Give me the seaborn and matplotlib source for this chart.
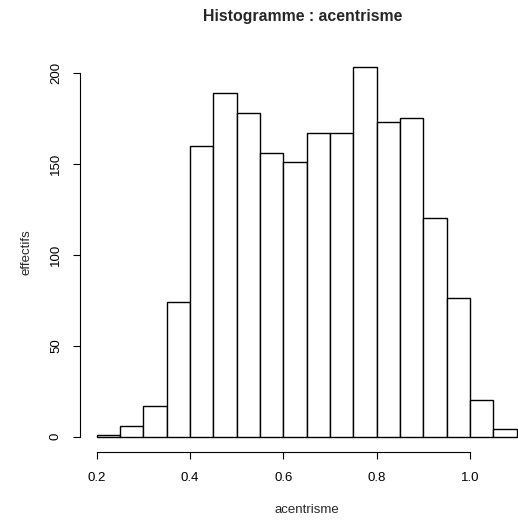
import numpy as np
import seaborn as sns
import matplotlib.pyplot as plt

breaks = [0.20, 0.25, 0.30, 0.35, 0.40, 0.45, 0.50, 0.55, 0.60, 0.65,
          0.70, 0.75, 0.80, 0.85, 0.90, 0.95, 1.00, 1.05, 1.10]
counts = [1, 6, 17, 74, 160, 189, 178, 156, 151, 167,
          167, 203, 173, 175, 120, 76, 20, 4]
x_ticks = [0.2, 0.4, 0.6, 0.8, 1.0]
y_ticks = [0, 50, 100, 150, 200]

mids = [(a + b) / 2 for a, b in zip(breaks[:-1], breaks[1:])]

sns.set_style('ticks')
plt.rcParams['font.family'] = ['Liberation Sans', 'DejaVu Sans']

fig = plt.figure(figsize=(5.18, 5.24), dpi=100)
W, H = 518, 524
# zone de tracé (en pixels), comme le graphique R d'origine
left, right, top, bottom = 80, 533.5, 52.5, 451.5
ax = fig.add_axes([left / W, 1 - bottom / H, (right - left) / W, (bottom - top) / H])

sns.histplot(x=mids, weights=counts, bins=breaks, ax=ax,
             color='white', edgecolor='black', linewidth=1.0, alpha=1)

ax.set_xlim(0.164, 1.136)
ax.set_ylim(-8.12, 211.12)
ax.set_xticks(x_ticks)
ax.set_xticklabels(['0.2', '0.4', '0.6', '0.8', '1.0'])
ax.set_yticks(y_ticks)
ax.set_yticklabels([str(v) for v in y_ticks], rotation=90, va='center')

for s in ['top', 'right']:
    ax.spines[s].set_visible(False)
ax.spines['left'].set_bounds(0, 200)
ax.spines['bottom'].set_bounds(0.2, 1.0)
for s in ['left', 'bottom']:
    ax.spines[s].set_linewidth(0.8)
    ax.spines[s].set_color('black')

ax.tick_params(axis='both', length=5, width=0.8, color='black',
               labelsize=9.5, labelcolor='black')
ax.tick_params(axis='x', pad=10)
ax.tick_params(axis='y', pad=8)

ax.set_xlabel('')
ax.set_ylabel('')
fig.text(307 / W, 1 - 510 / H, 'acentrisme', ha='center', va='center', fontsize=9.5)
fig.text(26 / W, 1 - 252 / H, 'effectifs', ha='center', va='center',
         rotation=90, fontsize=9.5)
fig.text(303 / W, 1 - 21 / H, 'Histogramme : acentrisme', ha='center',
         va='baseline', fontsize=11.4, fontweight='bold')

fig.savefig('out.png', dpi=100)
